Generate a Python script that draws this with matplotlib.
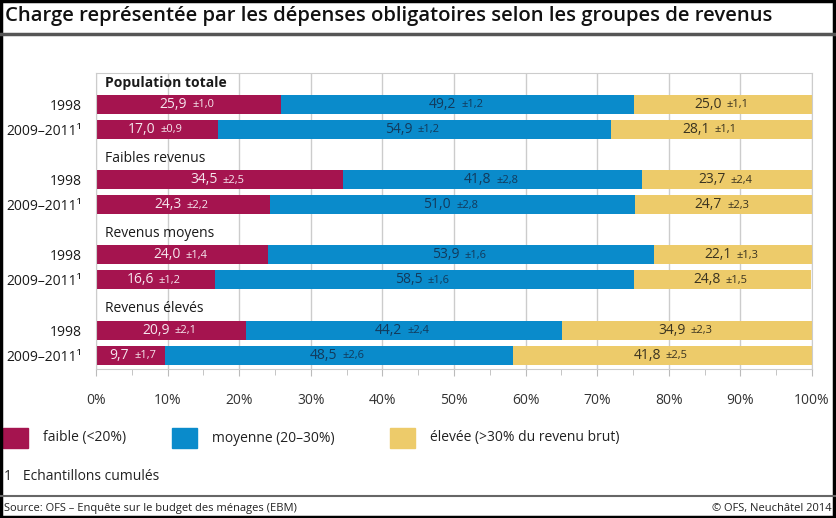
import matplotlib.pyplot as plt
from matplotlib.patches import Rectangle
from matplotlib.lines import Line2D

plt.rcParams['font.family'] = ['Open Sans', 'DejaVu Sans']

# Données
groupes = ['Population totale', 'Faibles revenus', 'Revenus moyens', 'Revenus élevés']
annees = ['1998', '2009–2011¹']
faible = [25.9, 17.0, 34.5, 24.3, 24.0, 16.6, 20.9, 9.7]
faible_err = ['±1,0', '±0,9', '±2,5', '±2,2', '±1,4', '±1,2', '±2,1', '±1,7']
moyenne = [49.2, 54.9, 41.8, 51.0, 53.9, 58.5, 44.2, 48.5]
moyenne_err = ['±1,2', '±1,2', '±2,8', '±2,8', '±1,6', '±1,6', '±2,4', '±2,6']
elevee = [25.0, 28.1, 23.7, 24.7, 22.1, 24.8, 34.9, 41.8]
elevee_err = ['±1,1', '±1,1', '±2,4', '±2,3', '±1,3', '±1,5', '±2,3', '±2,5']

series = [
    ('faible (<20%)', faible, faible_err, '#A5144F', '#F6E6EE'),
    ('moyenne (20–30%)', moyenne, moyenne_err, '#0A8BCB', '#123A5C'),
    ('élevée (>30% du revenu brut)', elevee, elevee_err, '#EDCB6A', '#3A3320'),
]

W, H = 836, 518
fig = plt.figure(figsize=(W / 100, H / 100), dpi=100)


def fx(px):
    return px / W


def fy(py):
    return 1 - py / H


# axes en pixels
ax = fig.add_axes([fx(96), fy(369), fx(812) - fx(96), fy(73) - fy(369)])

pos = []
for g in range(len(groupes)):
    pos += [g * 3 + 1, g * 3 + 2]

left = [0] * len(pos)
for nom, vals, errs, col, tcol in series:
    ax.barh(pos, vals, left=left, height=0.76, color=col, zorder=2)
    for i, (p, v, e) in enumerate(zip(pos, vals, errs)):
        c = left[i] + v / 2
        txt = f'{v:.1f}'.replace('.', ',')
        ax.annotate(txt, (c, p), xytext=(-1, 0), textcoords='offset points',
                    ha='right', va='center', fontsize=10, color=tcol, zorder=3)
        ax.annotate(e, (c, p), xytext=(2.5, -0.5), textcoords='offset points',
                    ha='left', va='center', fontsize=8, color=tcol, zorder=3)
    left = [a + b for a, b in zip(left, vals)]

for g, nom in enumerate(groupes):
    ax.text(1.2, g * 3 + 0.15, nom, ha='left', va='center', fontsize=10,
            fontweight='bold' if g == 0 else 'normal', color='#1a1a1a')

ax.set_xlim(0, 100)
ax.set_ylim(11.55, -0.24)
ax.set_yticks(pos)
ax.set_yticklabels(annees * len(groupes), fontsize=10, color='#1a1a1a')
ax.tick_params(axis='y', length=0, pad=10)
ax.set_xticks(range(0, 101, 10))
ax.set_xticklabels([f'{t}%' for t in range(0, 101, 10)], fontsize=10, color='#333333')
ax.set_xticks(range(5, 100, 10), minor=True)
ax.tick_params(axis='x', which='major', length=5, color='#bbbbbb', pad=12)
ax.tick_params(axis='x', which='minor', length=4, color='#bbbbbb')
ax.grid(axis='x', color='#cccccc', linewidth=1, zorder=0)
for s in ax.spines.values():
    s.set_color('#cccccc')
ax.set_axisbelow(True)

# titre et règles
fig.text(fx(5), fy(16), 'Charge représentée par les dépenses obligatoires selon les groupes de revenus',
         ha='left', va='center', fontsize=14.6, fontweight='semibold', color='#111111')
fig.add_artist(Line2D([0, 1], [fy(34), fy(34)], color='#555555', linewidth=2.5))
fig.add_artist(Line2D([0, 1], [fy(496), fy(496)], color='#666666', linewidth=1.5))

# légende
leg_x = [3, 172, 390]
for (nom, vals, errs, col, tcol), x0 in zip(series, leg_x):
    fig.add_artist(Rectangle((fx(x0), fy(448)), fx(25), fy(428) - fy(448), color=col))
    fig.text(fx(x0 + 40), fy(438), nom, ha='left', va='center', fontsize=10, color='#222222')

fig.text(fx(4), fy(476), '1   Echantillons cumulés', ha='left', va='center', fontsize=10, color='#222222')
fig.text(fx(4), fy(508), 'Source: OFS – Enquête sur le budget des ménages (EBM)', ha='left', va='center',
         fontsize=8, color='#222222')
fig.text(fx(832), fy(508), '© OFS, Neuchâtel 2014', ha='right', va='center', fontsize=8, color='#222222')

# cadre extérieur
fig.add_artist(Rectangle((0.001, 0.002), 0.997, 0.996, fill=False, edgecolor='black', linewidth=2.5))

fig.savefig('out.png', dpi=100)
